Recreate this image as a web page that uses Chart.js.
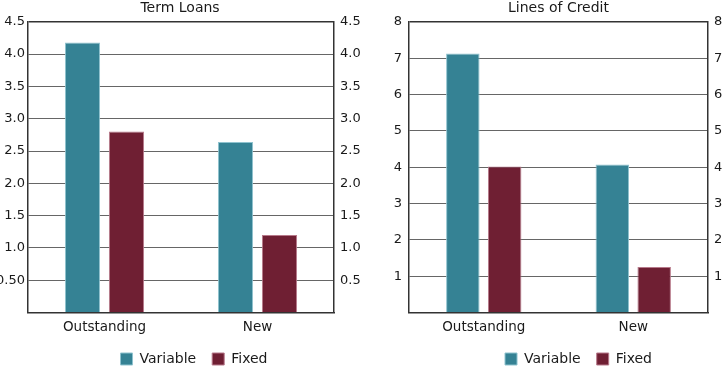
<!DOCTYPE html>
<html>
<head>
<meta charset="utf-8">
<script src="https://cdn.jsdelivr.net/npm/chart.js@4"></script>
<style>
  html, body { margin: 0; padding: 0; background: #fff; }
  .panel { position: absolute; top: 0; height: 366px; }
  #leftPanel { left: 0; width: 360px; }
  #rightPanel { left: 360px; width: 365px; }
</style>
</head>
<body>
<div class="panel" id="leftPanel"><canvas id="termChart"></canvas></div>
<div class="panel" id="rightPanel"><canvas id="creditChart"></canvas></div>
<script>
// dati
const categories = ['Outstanding', 'New'];
const termVariable = [4.18, 2.64];
const termFixed = [2.80, 1.20];
const creditVariable = [7.13, 4.07];
const creditFixed = [4.02, 1.25];
const termTicks = [0, 0.5, 1, 1.5, 2, 2.5, 3, 3.5, 4, 4.5];
const creditTicks = [0, 1, 2, 3, 4, 5, 6, 7, 8];

Chart.defaults.font.family = '"DejaVu Sans", sans-serif';
Chart.defaults.font.size = 13;
Chart.defaults.color = '#1a1a1a';

const tealFill = '#358294';
const tealEdge = '#8fc3cf';
const wineFill = '#6f1f33';
const wineEdge = '#b7798a';

// altezza fissa della legenda e piccolo spostamento orizzontale
const legendBox = {
    id: 'legendBox',
    beforeLayout: function(chart) {
        const lg = chart.legend;
        if (lg && !lg._fixed) {
            const orig = lg.fit;
            lg.fit = function() {
                orig.call(this);
                this.height = 30;
            };
            lg._fixed = true;
        }
    },
    afterLayout: function(chart, args, options) {
        const lg = chart.legend;
        if (lg && options.dx) {
            lg.left += options.dx;
            lg.right += options.dx;
        }
    }
};

function makeChart(id, title, variable, fixed, ticks, fmt, opts) {
    const max = ticks[ticks.length - 1];
    const ctx = document.getElementById(id).getContext('2d');
    return new Chart(ctx, {
        type: 'bar',
        data: {
            labels: categories,
            datasets: [{
                label: 'Variable',
                data: variable,
                backgroundColor: tealFill,
                borderColor: tealEdge,
                borderWidth: 1,
                categoryPercentage: opts.catPct,
                barPercentage: 0.8
            }, {
                label: 'Fixed',
                data: fixed,
                backgroundColor: wineFill,
                borderColor: wineEdge,
                borderWidth: 1,
                categoryPercentage: opts.catPct,
                barPercentage: 0.8
            }]
        },
        plugins: [legendBox],
        options: {
            responsive: true,
            maintainAspectRatio: false,
            animation: false,
            plugins: {
                legendBox: { dx: opts.legendDx },
                title: {
                    display: true,
                    text: title,
                    fullSize: opts.fullSize,
                    font: { size: 14, weight: 'normal' },
                    color: '#1a1a1a',
                    padding: { top: 0, bottom: 5 }
                },
                legend: {
                    position: 'bottom',
                    fullSize: opts.fullSize,
                    labels: { boxWidth: 12, boxHeight: 12, padding: 16, font: { size: 14 } }
                },
                tooltip: { enabled: false }
            },
            scales: {
                x: {
                    afterFit: function(scale) { scale.height = 23.5; },
                    grid: { display: false, drawTicks: false },
                    border: { color: '#333', width: 1.5 },
                    ticks: { font: { size: 13.5 }, padding: 7 }
                },
                y: {
                    position: 'left',
                    min: 0,
                    max: max,
                    afterBuildTicks: function(scale) {
                        scale.ticks = ticks.map(function(v) { return { value: v }; });
                    },
                    afterFit: function(scale) { scale.width = opts.widths[0]; },
                    grid: {
                        drawTicks: false,
                        color: function(c) { return c.tick && c.tick.value === max ? '#333' : '#666'; },
                        lineWidth: function(c) { return c.tick && c.tick.value === max ? 1.5 : 1; }
                    },
                    border: { color: '#333', width: 1.5 },
                    ticks: { padding: opts.pads[0], callback: fmt }
                },
                y2: {
                    position: 'right',
                    min: 0,
                    max: max,
                    afterBuildTicks: function(scale) {
                        scale.ticks = ticks.map(function(v) { return { value: v }; });
                    },
                    afterFit: function(scale) { scale.width = opts.widths[1]; },
                    grid: { display: false, drawTicks: false },
                    border: { color: '#333', width: 1.5 },
                    ticks: { padding: opts.pads[1], callback: fmt }
                }
            }
        }
    });
}

makeChart('termChart', 'Term Loans', termVariable, termFixed, termTicks,
    function(v) { return v === 0 ? '' : (v === 0.5 ? '0.50' : v.toFixed(1)); },
    { widths: [28, 26], pads: [3, 6], catPct: 0.575, fullSize: true, legendDx: 14 });

makeChart('creditChart', 'Lines of Credit', creditVariable, creditFixed, creditTicks,
    function(v) { return v === 0 ? '' : String(v); },
    { widths: [49, 17], pads: [7, 6], catPct: 0.56, fullSize: false, legendDx: 20 });
</script>
</body>
</html>
